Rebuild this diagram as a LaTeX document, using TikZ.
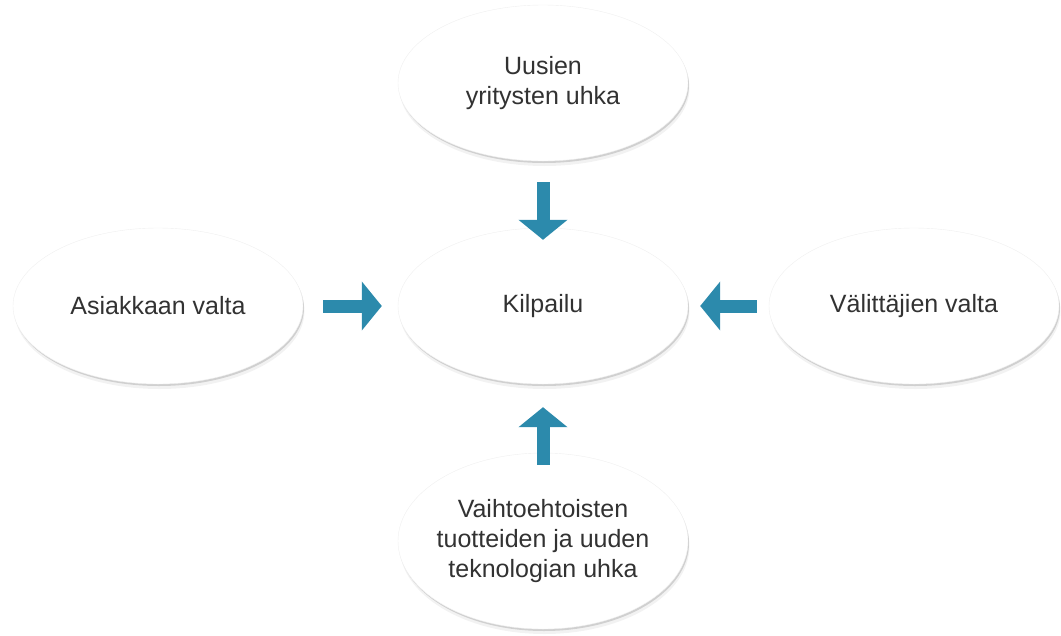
\documentclass[tikz,border=0pt]{standalone}
\usepackage{fontspec}
\setmainfont{Liberation Sans}
\usepackage{xcolor}
\usetikzlibrary{shapes.geometric, positioning, arrows.meta, shadows}

\definecolor{flowblue}{RGB}{44,138,172}
\definecolor{textgray}{RGB}{50,50,50}

\tikzset{
  force/.style={ellipse, fill=white, draw=black!6, inner sep=0pt,
    minimum width=290pt, minimum height=156pt, align=center,
    text=textgray, font=\fontsize{25}{30}\selectfont,
    drop shadow={shadow xshift=1pt, shadow yshift=-2pt, opacity=0.3},
    drop shadow={shadow xshift=1.5pt, shadow yshift=-5pt, opacity=0.1}},
  flow/.style={draw=flowblue, line width=13pt,
    -{Triangle[width=48pt,length=20pt]}}
}

\begin{document}
\begin{tikzpicture}[x=1pt, y=-1pt]
\useasboundingbox (0,0) rectangle (1061,635);
% the five forces
\node[force] (kil) at (543,306) {Kilpailu};
\node[force] (uudet) at (543,83) {Uusien\\yritysten uhka};
\node[force] (asiakas) at (158,306) {Asiakkaan valta};
\node[force] (valittaja) at (914,306) {V\"alitt\"ajien valta};
\node[force, inner xsep=-6pt, minimum height=176pt] (korvaava) at (543,541)
{Vaihtoehtoisten\\tuotteiden ja uuden\\teknologian uhka};
% arrows into the middle
\draw[flow, shorten <=21pt, shorten >=-12pt] (uudet.south) -- (kil.north);
\draw[flow, shorten <=20pt, shorten >=16pt] (asiakas.east) -- (kil.west);
\draw[flow, shorten <=12pt, shorten >=12pt] (valittaja.west) -- (kil.east);
\draw[flow, shorten <=-12pt, shorten >=23pt] (korvaava.north) -- (kil.south);
\end{tikzpicture}
\end{document}
